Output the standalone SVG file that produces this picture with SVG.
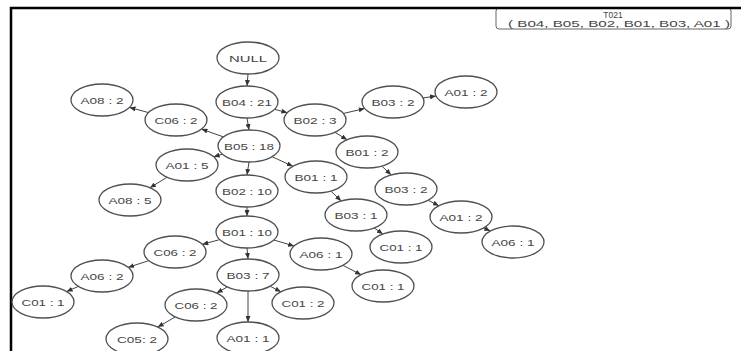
<svg xmlns="http://www.w3.org/2000/svg" width="741" height="351" viewBox="0 0 741 351">
  <style>
    .node ellipse { fill: #ffffff; stroke: #505050; stroke-width: 1.3; }
    .node text { font-family: "Liberation Sans", Arial, sans-serif; font-size: 9.5px; fill: #454545; text-anchor: middle; }
    #edges line { stroke: #444444; stroke-width: 1; marker-end: url(#arrow); }
    .legend text { font-family: "Liberation Sans", Arial, sans-serif; font-size: 8.5px; fill: #444444; text-anchor: middle; }
  </style>
  <defs>
    <marker id="arrow" markerUnits="userSpaceOnUse" markerWidth="6" markerHeight="5" refX="6" refY="2.5" orient="auto">
      <path d="M0,0 L6,2.5 L0,5 z" fill="#333333"/>
    </marker>
  </defs>

  <rect x="0" y="0" width="741" height="351" fill="#ffffff"/>

  <!-- legend box, top right -->
  <g id="legend" class="legend">
    <rect x="496" y="8" width="235" height="21" rx="3" fill="#ffffff" stroke="#666666" stroke-width="1"/>
    <text x="613" y="18">T021</text>
    <text x="619" y="27" textLength="222" lengthAdjust="spacingAndGlyphs">( B04, B05, B02, B01, B03, A01 )</text>
  </g>

  <!-- frame -->
  <path d="M11,351 L11,8 L741,8" fill="none" stroke="#000000" stroke-width="2.5"/>

  <!-- connectors -->
  <g id="edges">
    <line x1="248" y1="74" x2="247" y2="86"/>
    <line x1="247" y1="118" x2="249" y2="130"/>
    <line x1="274.6" y1="109.3" x2="287.4" y2="112.7"/>
    <line x1="223.5" y1="136.9" x2="201.5" y2="129.1"/>
    <line x1="148.5" y1="112.6" x2="129.5" y2="107.4"/>
    <line x1="222.3" y1="154.2" x2="213.7" y2="156.8"/>
    <line x1="167.1" y1="177.2" x2="149.9" y2="187.8"/>
    <line x1="249" y1="162" x2="247" y2="175"/>
    <line x1="272.1" y1="156.7" x2="292.9" y2="166.3"/>
    <line x1="343.3" y1="113.5" x2="364.7" y2="108.5"/>
    <line x1="423" y1="97.9" x2="436" y2="96.1"/>
    <line x1="334.9" y1="132.3" x2="347.1" y2="139.7"/>
    <line x1="381.8" y1="166.1" x2="391.2" y2="174.9"/>
    <line x1="428.1" y1="200.2" x2="438.9" y2="205.8"/>
    <line x1="483.7" y1="227.9" x2="490.3" y2="231.1"/>
    <line x1="330.8" y1="191.1" x2="341.2" y2="200.9"/>
    <line x1="374.2" y1="227.9" x2="382.8" y2="234.1"/>
    <line x1="247" y1="207" x2="247" y2="216"/>
    <line x1="219.7" y1="239.6" x2="202.3" y2="244.4"/>
    <line x1="148.9" y1="260.6" x2="128.1" y2="267.4"/>
    <line x1="78.4" y1="286.4" x2="66.6" y2="291.6"/>
    <line x1="247" y1="248" x2="248" y2="259"/>
    <line x1="273.9" y1="240" x2="294.1" y2="246"/>
    <line x1="342.9" y1="265.3" x2="361.1" y2="274.7"/>
    <line x1="227.3" y1="286.9" x2="216.7" y2="293.1"/>
    <line x1="175.3" y1="316.9" x2="157.7" y2="327.1"/>
    <line x1="248" y1="291" x2="248" y2="322"/>
    <line x1="270.1" y1="286.2" x2="280.9" y2="291.8"/>
  </g>

  <!-- nodes -->
  <g id="n-null" class="node"><ellipse cx="248" cy="58" rx="31" ry="16"/><text x="248" y="61.5" textLength="38" lengthAdjust="spacingAndGlyphs">NULL</text></g>
  <g id="n-b04-21" class="node"><ellipse cx="247" cy="102" rx="31" ry="16"/><text x="247" y="105.5" textLength="50" lengthAdjust="spacingAndGlyphs">B04 : 21</text></g>
  <g id="n-b02-3" class="node"><ellipse cx="315" cy="120" rx="31" ry="16"/><text x="315" y="123.5" textLength="43" lengthAdjust="spacingAndGlyphs">B02 : 3</text></g>
  <g id="n-c06-2a" class="node"><ellipse cx="176" cy="120" rx="31" ry="16"/><text x="176" y="123.5" textLength="43" lengthAdjust="spacingAndGlyphs">C06 : 2</text></g>
  <g id="n-a08-2" class="node"><ellipse cx="102" cy="100" rx="31" ry="16"/><text x="102" y="103.5" textLength="43" lengthAdjust="spacingAndGlyphs">A08 : 2</text></g>
  <g id="n-b05-18" class="node"><ellipse cx="249" cy="146" rx="31" ry="16"/><text x="249" y="149.5" textLength="50" lengthAdjust="spacingAndGlyphs">B05 : 18</text></g>
  <g id="n-a01-5" class="node"><ellipse cx="187" cy="165" rx="31" ry="16"/><text x="187" y="168.5" textLength="43" lengthAdjust="spacingAndGlyphs">A01 : 5</text></g>
  <g id="n-a08-5" class="node"><ellipse cx="130" cy="200" rx="31" ry="16"/><text x="130" y="203.5" textLength="43" lengthAdjust="spacingAndGlyphs">A08 : 5</text></g>
  <g id="n-b01-1" class="node"><ellipse cx="316" cy="177" rx="31" ry="16"/><text x="316" y="180.5" textLength="43" lengthAdjust="spacingAndGlyphs">B01 : 1</text></g>
  <g id="n-b02-10" class="node"><ellipse cx="247" cy="191" rx="31" ry="16"/><text x="247" y="194.5" textLength="50" lengthAdjust="spacingAndGlyphs">B02 : 10</text></g>
  <g id="n-b03-2a" class="node"><ellipse cx="393" cy="102" rx="31" ry="16"/><text x="393" y="105.5" textLength="43" lengthAdjust="spacingAndGlyphs">B03 : 2</text></g>
  <g id="n-a01-2a" class="node"><ellipse cx="466" cy="92" rx="31" ry="16"/><text x="466" y="95.5" textLength="43" lengthAdjust="spacingAndGlyphs">A01 : 2</text></g>
  <g id="n-b01-2" class="node"><ellipse cx="367" cy="152" rx="31" ry="16"/><text x="367" y="155.5" textLength="43" lengthAdjust="spacingAndGlyphs">B01 : 2</text></g>
  <g id="n-b03-2b" class="node"><ellipse cx="406" cy="189" rx="31" ry="16"/><text x="406" y="192.5" textLength="43" lengthAdjust="spacingAndGlyphs">B03 : 2</text></g>
  <g id="n-a01-2b" class="node"><ellipse cx="461" cy="217" rx="31" ry="16"/><text x="461" y="220.5" textLength="43" lengthAdjust="spacingAndGlyphs">A01 : 2</text></g>
  <g id="n-a06-1a" class="node"><ellipse cx="513" cy="242" rx="31" ry="16"/><text x="513" y="245.5" textLength="43" lengthAdjust="spacingAndGlyphs">A06 : 1</text></g>
  <g id="n-b03-1" class="node"><ellipse cx="356" cy="215" rx="31" ry="16"/><text x="356" y="218.5" textLength="43" lengthAdjust="spacingAndGlyphs">B03 : 1</text></g>
  <g id="n-c01-1a" class="node"><ellipse cx="401" cy="247" rx="31" ry="16"/><text x="401" y="250.5" textLength="43" lengthAdjust="spacingAndGlyphs">C01 : 1</text></g>
  <g id="n-b01-10" class="node"><ellipse cx="247" cy="232" rx="31" ry="16"/><text x="247" y="235.5" textLength="50" lengthAdjust="spacingAndGlyphs">B01 : 10</text></g>
  <g id="n-c06-2b" class="node"><ellipse cx="175" cy="252" rx="31" ry="16"/><text x="175" y="255.5" textLength="43" lengthAdjust="spacingAndGlyphs">C06 : 2</text></g>
  <g id="n-a06-1b" class="node"><ellipse cx="321" cy="254" rx="31" ry="16"/><text x="321" y="257.5" textLength="43" lengthAdjust="spacingAndGlyphs">A06 : 1</text></g>
  <g id="n-a06-2" class="node"><ellipse cx="102" cy="276" rx="31" ry="16"/><text x="102" y="279.5" textLength="43" lengthAdjust="spacingAndGlyphs">A06 : 2</text></g>
  <g id="n-c01-1b" class="node"><ellipse cx="43" cy="302" rx="31" ry="16"/><text x="43" y="305.5" textLength="43" lengthAdjust="spacingAndGlyphs">C01 : 1</text></g>
  <g id="n-b03-7" class="node"><ellipse cx="248" cy="275" rx="31" ry="16"/><text x="248" y="278.5" textLength="43" lengthAdjust="spacingAndGlyphs">B03 : 7</text></g>
  <g id="n-c06-2c" class="node"><ellipse cx="196" cy="305" rx="31" ry="16"/><text x="196" y="308.5" textLength="43" lengthAdjust="spacingAndGlyphs">C06 : 2</text></g>
  <g id="n-c01-2" class="node"><ellipse cx="303" cy="303" rx="31" ry="16"/><text x="303" y="306.5" textLength="43" lengthAdjust="spacingAndGlyphs">C01 : 2</text></g>
  <g id="n-c05-2" class="node"><ellipse cx="137" cy="339" rx="31" ry="16"/><text x="137" y="342.5" textLength="40" lengthAdjust="spacingAndGlyphs">C05: 2</text></g>
  <g id="n-a01-1" class="node"><ellipse cx="248" cy="338" rx="31" ry="16"/><text x="248" y="341.5" textLength="43" lengthAdjust="spacingAndGlyphs">A01 : 1</text></g>
  <g id="n-c01-1c" class="node"><ellipse cx="383" cy="286" rx="31" ry="16"/><text x="383" y="289.5" textLength="43" lengthAdjust="spacingAndGlyphs">C01 : 1</text></g>
</svg>
